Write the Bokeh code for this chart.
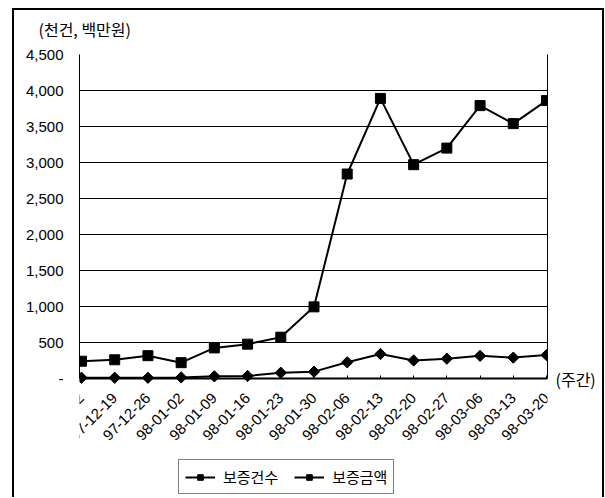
import math
from bokeh.plotting import figure
from bokeh.models import (FixedTicker, NumeralTickFormatter, Legend, LegendItem,
                          Range1d, LinearAxis)
from bokeh.embed import file_html
from bokeh.resources import INLINE

# weekly reporting dates
weeks = ["97-12-12", "97-12-19", "97-12-26", "98-01-02", "98-01-09",
         "98-01-16", "98-01-23", "98-01-30", "98-02-06", "98-02-13",
         "98-02-20", "98-02-27", "98-03-06", "98-03-13", "98-03-20"]

# 보증건수 (thousand cases)
guarantee_count = [10, 10, 10, 15, 30, 35, 80, 95, 225, 340, 250, 275, 315, 290, 325]

# 보증금액 (million won)
guarantee_amount = [240, 260, 317, 220, 425, 477, 574, 995, 2840, 3890, 2970, 3200,
                    3790, 3540, 3860]

y_ticks = [0, 500, 1000, 1500, 2000, 2500, 3000, 3500, 4000, 4500]

NUM_FONT = "Liberation Sans"
KR_FONT = "Noto Sans CJK KR"

x = list(range(len(weeks)))

# layout in pixels: the value area is 324 px tall; the frame continues below it
# so that the date labels and the legend sit inside the drawing area
VALUE_PX = 324
FRAME_PX = 443
y_max = y_ticks[-1]
y_min = -(FRAME_PX - VALUE_PX) * y_max / VALUE_PX

# chart box: black rule on the left, top and right, drawn behind a transparent canvas
box_rule = ("linear-gradient(#000,#000) 12px 8px / 2px 490px no-repeat, "
            "linear-gradient(#000,#000) 12px 8px / 592px 2px no-repeat, "
            "linear-gradient(#000,#000) 602px 8px / 2px 490px no-repeat, #fff")

p = figure(frame_width=468, frame_height=FRAME_PX, output_backend="svg",
           toolbar_location=None,
           x_range=Range1d(-0.06, len(weeks) - 1 + 0.03),
           y_range=Range1d(y_min, y_max),
           min_border_left=79, min_border_right=58, min_border_top=53,
           min_border_bottom=0, background_fill_color="white",
           border_fill_alpha=0, styles={"background": box_rule})

p.outline_line_color = None

# unit caption
p.title.text = "(천건, 백만원)"
p.title.align = "left"
p.title.offset = -41
p.title.standoff = 28
p.title.text_font = KR_FONT
p.title.text_font_size = "16px"
p.title.text_font_style = "normal"
p.title.text_color = "black"

# y axis (drawn only over the value span)
p.yaxis.ticker = FixedTicker(ticks=y_ticks)
p.yaxis.bounds = (0, y_max)
p.yaxis.formatter = NumeralTickFormatter(format="0,0")
p.yaxis.major_label_overrides = {0: "-"}
p.yaxis.major_tick_out = 0
p.yaxis.major_tick_in = 0
p.yaxis.minor_tick_line_color = None
p.yaxis.major_label_standoff = 16
p.yaxis.axis_line_color = "black"
p.yaxis.major_label_text_font = NUM_FONT
p.yaxis.major_label_text_font_size = "15px"
p.yaxis.major_label_text_color = "black"

# category (date) axis pinned at zero
p.xaxis.fixed_location = 0
p.xaxis.ticker = FixedTicker(ticks=x)
p.xaxis.major_label_overrides = {i: w for i, w in enumerate(weeks)}
p.xaxis.major_label_orientation = math.pi / 4
p.xaxis.major_tick_out = 0
p.xaxis.major_tick_in = 3
p.xaxis.major_tick_line_color = "black"
p.xaxis.minor_tick_line_color = None
p.xaxis.major_label_standoff = 17
p.xaxis.axis_line_color = "black"
p.xaxis.axis_line_width = 2
p.xaxis.major_label_text_font = NUM_FONT
p.xaxis.major_label_text_font_size = "15px"
p.xaxis.major_label_text_color = "black"

p.xgrid.grid_line_color = None
p.ygrid.grid_line_color = "black"
p.ygrid.grid_line_width = 1

# right edge of the value area, carrying the period caption at the baseline
right_axis = LinearAxis(ticker=FixedTicker(ticks=[0]), bounds=(0, y_max),
                        major_label_overrides={0: "(주간)"},
                        major_label_orientation="horizontal",
                        axis_line_color="black", axis_line_width=1,
                        major_tick_line_color=None, minor_tick_line_color=None,
                        major_tick_out=0, major_tick_in=0,
                        major_label_standoff=8, major_label_text_font=KR_FONT,
                        major_label_text_font_size="16px",
                        major_label_text_color="black")
p.add_layout(right_axis, "right")

# series
l1 = p.line(x, guarantee_count, line_color="black", line_width=2)
m1 = p.scatter(x, guarantee_count, marker="square", angle=math.pi / 4, size=8,
               fill_color="black", line_color="black")
l2 = p.line(x, guarantee_amount, line_color="black", line_width=2)
m2 = p.scatter(x, guarantee_amount, marker="square", size=10,
               fill_color="black", line_color="black")

legend = Legend(items=[LegendItem(label="보증건수", renderers=[l1, m1]),
                       LegendItem(label="보증금액", renderers=[l2, m2])],
                orientation="horizontal", location=(99, 3),
                label_text_font=KR_FONT, label_text_font_size="15px",
                label_text_color="black", glyph_width=30, glyph_height=14,
                border_line_color="black", border_line_width=1,
                background_fill_color="white", padding=6, spacing=16,
                margin=0, label_standoff=8)
p.add_layout(legend, "center")

open("out.html", "w").write(file_html(p, INLINE))
